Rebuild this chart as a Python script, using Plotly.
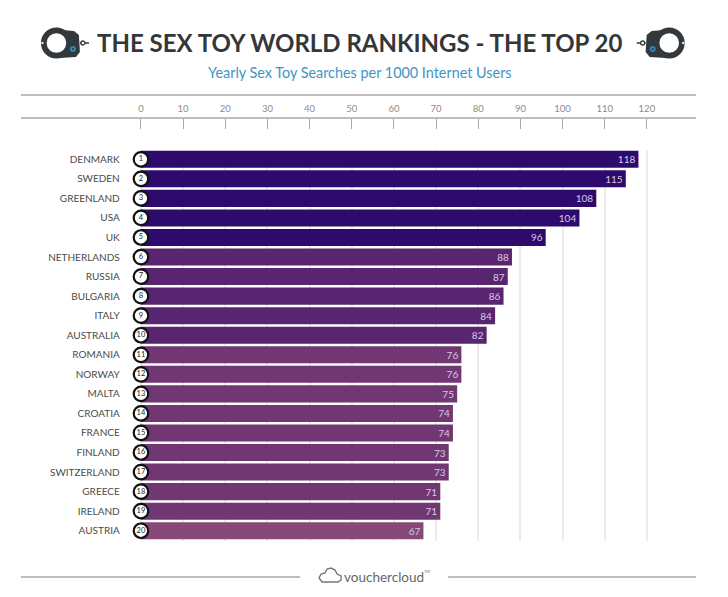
import plotly.graph_objects as go

# the page keeps its default 8px body margin, so the figure is 16px smaller than the window
PAGE_MARGIN = 8
W, H = 728 - 2 * PAGE_MARGIN, 597 - 2 * PAGE_MARGIN
# the photographed page came out a little narrow, stretch x to land on the reference
X_STRETCH = 1.0075

# ----------------------------
# Data
# ----------------------------
countries = ['DENMARK', 'SWEDEN', 'GREENLAND', 'USA', 'UK', 'NETHERLANDS', 'RUSSIA',
             'BULGARIA', 'ITALY', 'AUSTRALIA', 'ROMANIA', 'NORWAY', 'MALTA', 'CROATIA',
             'FRANCE', 'FINLAND', 'SWITZERLAND', 'GREECE', 'IRELAND', 'AUSTRIA']
searches = [118, 115, 108, 104, 96, 88, 87, 86, 84, 82,
            76, 76, 75, 74, 74, 73, 73, 71, 71, 67]
ranks = list(range(1, 21))
tick_vals = list(range(0, 121, 10))


# bars get lighter in steps going down the ranking
def bar_colour(rank):
    if rank <= 5:
        return '#2e0a6c'
    if rank <= 10:
        return '#5a2570'
    if rank <= 19:
        return '#703773'
    return '#874a78'


# pixel -> paper helpers for the decoration
def px(x):
    return (21 + (x - 21) * X_STRETCH - PAGE_MARGIN) / W


def py(y):
    return 1 - (y - PAGE_MARGIN) / H


def rule(x0, x1, y, colour='#a9a9a9', width=1.6):
    return dict(type='line', xref='paper', yref='paper', x0=px(x0), x1=px(x1),
                y0=py(y), y1=py(y), line=dict(color=colour, width=width))


def circle(cx, cy, r, fill, line_colour=None, line_width=0):
    return dict(type='circle', xref='paper', yref='paper',
                x0=px(cx - r), x1=px(cx + r), y0=py(cy + r), y1=py(cy - r),
                fillcolor=fill, line=dict(color=line_colour or fill, width=line_width))


def cuff(flip):
    # drawn for the left side, mirrored for the right one
    fx = (lambda x: 725.5 - x) if flip else (lambda x: x)
    dark = '#33383c'
    body = [(62, 30), (74, 31), (79, 35), (80, 52), (76, 57), (60, 58)]
    path = 'M ' + ' L '.join(f'{px(fx(x)):.4f},{py(y):.4f}' for x, y in body) + ' Z'
    return [
        dict(type='path', xref='paper', yref='paper', path=path, fillcolor=dark, line_width=0),
        rule(fx(80), fx(89), 43, dark, 1.5),
        circle(fx(56.5), 43, 15.5, dark),
        circle(fx(56.5), 43, 9.8, 'white'),
        circle(fx(42.5), 43, 1.3, '#dddddd'),
        circle(fx(73), 49, 3, '#2f86b5'),
        circle(fx(73), 49, 1, '#33383c'),
        circle(fx(83), 43, 2, 'white', dark, 1.3),
    ]


fig = go.Figure()

fig.add_trace(go.Bar(
    x=searches, y=countries, orientation='h', width=0.87,
    marker=dict(color=[bar_colour(r) for r in ranks], line_width=0),
    text=searches, textposition='inside', insidetextanchor='end',
    textangle=0, constraintext='none',
    textfont=dict(family='Lato', size=10, color='#d9c9e4'),
    hoverinfo='skip',
))

# rank badges sit on the zero line
fig.add_trace(go.Scatter(
    x=[0] * len(ranks), y=countries, mode='markers+text',
    marker=dict(size=14.5, color='white', line=dict(color='#111111', width=2.2)),
    text=ranks, textposition='middle center',
    textfont=dict(family='Lato', size=7.5, color='#222222'),
    hoverinfo='skip', cliponaxis=False,
))

shapes = [rule(21, 696, 95), rule(21, 696, 118), rule(21, 300, 577), rule(448, 696, 577)]
shapes += cuff(False) + cuff(True)

# vouchercloud cloud outline
cloud = [(322, 582), (319, 578), (321, 574), (325, 573), (327, 569), (331, 568),
         (335, 570), (337, 574), (341, 576), (341, 580), (338, 582)]
shapes.append(dict(type='path', xref='paper', yref='paper',
                   path='M ' + ' L '.join(f'{px(x):.4f},{py(y):.4f}' for x, y in cloud) + ' Z',
                   fillcolor='white', line=dict(color='#777777', width=1.4)))

annotations = [
    dict(x=px(359), y=py(43), text='<b>THE SEX TOY WORLD RANKINGS - THE TOP 20</b>',
         font=dict(family='Lato', size=24, color='#33373a')),
    dict(x=px(359.5), y=py(73), text='Yearly Sex Toy Searches per 1000 Internet Users',
         font=dict(family='Lato', size=14.4, color='#3f94c4')),
    dict(x=px(384), y=py(577), text='vouchercloud',
         font=dict(family='Lato', size=13.5, color='#666666')),
    dict(x=px(426.5), y=py(571), text='TM', font=dict(family='Lato', size=4, color='#666666')),
]
for a in annotations:
    a.update(xref='paper', yref='paper', showarrow=False, xanchor='center', yanchor='middle')

# range runs one unit past 0 and 120, plotly drops ticks and grid sitting right on the edge
unit = (646.7 - 141) / 120

fig.update_layout(
    width=W, height=H, autosize=False,
    margin=dict(l=0, r=0, t=0, b=0),
    paper_bgcolor='white', plot_bgcolor='white',
    showlegend=False, bargap=0.13,
    shapes=shapes, annotations=annotations,
    xaxis=dict(
        domain=[px(141 - unit), px(646.7 + unit)], range=[-1, 121], side='top',
        anchor='free', position=py(118),
        tickvals=tick_vals, ticks='inside', ticklen=10, tickwidth=1.3, tickcolor='#a9a9a9',
        ticklabelstandoff=4,
        tickfont=dict(family='Lato', size=9.5, color='#8c8c8c'),
        showgrid=True, gridcolor='#ececec', gridwidth=2,
        showline=False, zeroline=False,
    ),
    yaxis=dict(
        domain=[py(540.5), py(149.5)], range=[19.5, -0.5],
        tickfont=dict(family='Lato', size=10, color='#4a4a4a'),
        ticks='', ticklabelstandoff=16,
        showgrid=False, showline=False, zeroline=False,
    ),
)

fig.write_html("out.html")
